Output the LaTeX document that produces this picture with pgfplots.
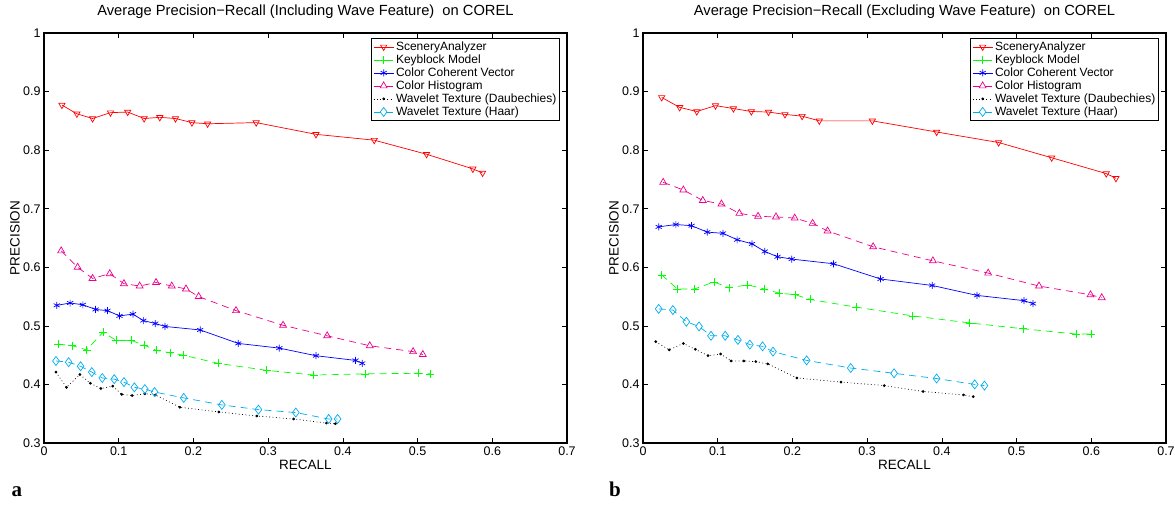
\documentclass[border=0pt]{standalone}
\usepackage{fontspec}
\setmainfont{Liberation Sans}
\newfontfamily\serifbf{Liberation Serif}
\usepackage{pgfplots}
\pgfplotsset{compat=1.18}

\pgfplotsset{
  prbase/.style={
    scale only axis, width=523pt, height=410pt, anchor=south west,
    xmin=0, xmax=0.7, ymin=0.3, ymax=1,
    xtick={0,0.1,0.2,0.3,0.4,0.5,0.6,0.7},
    ytick={0.3,0.4,0.5,0.6,0.7,0.8,0.9,1},
    tick align=inside, major tick length=5pt,
    axis line style={line width=1.1pt},
    every tick/.style={black, line width=0.7pt},
    /pgf/number format/assume math mode=true,
    ticklabel style={font=\fontsize{12.5}{14}\selectfont},
    title style={at={(axis description cs:0.5,1)}, anchor=base, yshift=11pt, font=\fontsize{14.7}{16}\selectfont},
    xlabel={RECALL}, ylabel={PRECISION},
    xlabel style={at={(axis description cs:0.5,-0.0537)}, anchor=center, font=\fontsize{13.5}{15}\selectfont},
    ylabel style={at={(axis description cs:-0.0555,0.5)}, anchor=center, font=\fontsize{13.5}{15}\selectfont},
    legend style={at={(0.987,0.988)}, anchor=north east, draw=black, line width=0.8pt, fill=white,
      font=\fontsize{12}{13}\selectfont, row sep=-1.2pt, inner sep=1.5pt},
    legend cell align=left,
    legend image code/.code={\draw[mark repeat=2,mark phase=2] plot coordinates {(0pt,0pt)(10pt,0pt)(20pt,0pt)};},
  },
  sa/.style={color=red, solid, line width=0.7pt, mark=triangle, mark size=3.6pt, mark options={rotate=180, solid}},
  kb/.style={color=green, line width=0.7pt, dash pattern=on 7pt off 5pt, mark=+, mark size=4pt, mark options={solid}},
  ccv/.style={color=blue, solid, line width=0.7pt, mark=asterisk, mark size=3.5pt, mark options={solid}},
  ch/.style={color=magenta, line width=0.7pt, dash pattern=on 7pt off 5pt, mark=triangle, mark size=4pt, mark options={solid}},
  wd/.style={color=black, line width=0.7pt, dash pattern=on 0.8pt off 2.6pt, mark=*, mark size=1pt, mark options={solid}},
  wh/.style={color=cyan, line width=0.7pt, dash pattern=on 7pt off 5pt, mark=diamond, mark size=4.5pt, mark options={solid}},
}

\begin{document}
\begin{tikzpicture}[x=1pt,y=1pt]
\useasboundingbox (0,0) rectangle (1175,510);
\begin{axis}[prbase, at={(44pt,67pt)},
  title={Average Precision−Recall (Including Wave Feature)\ \ on COREL}]
\addplot[sa] coordinates {(0.024,0.877)(0.044,0.862)(0.065,0.854)(0.089,0.864)(0.112,0.865)(0.134,0.854)(0.155,0.856)(0.176,0.854)(0.198,0.847)(0.219,0.845)(0.284,0.847)(0.364,0.827)(0.442,0.817)(0.512,0.793)(0.574,0.768)(0.587,0.761)};
\addlegendentry{SceneryAnalyzer}
\addplot[kb] coordinates {(0.019,0.469)(0.038,0.466)(0.057,0.459)(0.079,0.489)(0.097,0.475)(0.117,0.475)(0.134,0.467)(0.151,0.458)(0.169,0.454)(0.186,0.450)(0.233,0.436)(0.298,0.424)(0.361,0.416)(0.430,0.418)(0.501,0.419)(0.517,0.418)};
\addlegendentry{Keyblock Model}
\addplot[ccv] coordinates {(0.017,0.535)(0.035,0.539)(0.052,0.536)(0.069,0.528)(0.085,0.526)(0.101,0.517)(0.119,0.520)(0.133,0.509)(0.149,0.504)(0.162,0.499)(0.209,0.493)(0.260,0.470)(0.315,0.462)(0.364,0.449)(0.417,0.441)(0.426,0.436)};
\addlegendentry{Color Coherent Vector}
\addplot[ch] coordinates {(0.023,0.628)(0.045,0.600)(0.065,0.581)(0.088,0.589)(0.107,0.572)(0.128,0.568)(0.150,0.574)(0.171,0.568)(0.190,0.563)(0.207,0.550)(0.257,0.526)(0.320,0.501)(0.379,0.483)(0.436,0.466)(0.494,0.456)(0.507,0.451)};
\addlegendentry{Color Histogram}
\addplot[wd] coordinates {(0.016,0.421)(0.030,0.395)(0.048,0.417)(0.062,0.402)(0.076,0.393)(0.092,0.397)(0.104,0.383)(0.118,0.381)(0.135,0.384)(0.149,0.382)(0.182,0.361)(0.234,0.353)(0.285,0.346)(0.334,0.341)(0.378,0.334)(0.390,0.333)};
\addlegendentry{Wavelet Texture (Daubechies)}
\addplot[wh] coordinates {(0.016,0.440)(0.033,0.438)(0.049,0.431)(0.064,0.421)(0.078,0.411)(0.094,0.409)(0.107,0.404)(0.121,0.395)(0.135,0.392)(0.148,0.387)(0.187,0.377)(0.238,0.365)(0.287,0.357)(0.337,0.352)(0.381,0.341)(0.393,0.341)};
\addlegendentry{Wavelet Texture (Haar)}
\end{axis}
\begin{axis}[prbase, at={(643pt,67pt)},
  title={Average Precision−Recall (Excluding Wave Feature)\ \ on COREL}]
\addplot[sa] coordinates {(0.025,0.890)(0.049,0.873)(0.072,0.866)(0.097,0.876)(0.121,0.871)(0.145,0.866)(0.168,0.865)(0.190,0.861)(0.213,0.858)(0.236,0.850)(0.307,0.850)(0.393,0.831)(0.476,0.813)(0.547,0.787)(0.620,0.760)(0.633,0.752)};
\addlegendentry{SceneryAnalyzer}
\addplot[kb] coordinates {(0.025,0.587)(0.046,0.563)(0.069,0.563)(0.095,0.575)(0.115,0.565)(0.140,0.570)(0.162,0.563)(0.182,0.556)(0.204,0.553)(0.224,0.545)(0.285,0.532)(0.361,0.517)(0.437,0.505)(0.509,0.495)(0.580,0.486)(0.600,0.486)};
\addlegendentry{Keyblock Model}
\addplot[ccv] coordinates {(0.021,0.669)(0.044,0.673)(0.065,0.671)(0.086,0.660)(0.107,0.658)(0.126,0.647)(0.146,0.640)(0.163,0.627)(0.180,0.618)(0.199,0.614)(0.255,0.606)(0.318,0.580)(0.387,0.569)(0.447,0.552)(0.510,0.543)(0.522,0.538)};
\addlegendentry{Color Coherent Vector}
\addplot[ch] coordinates {(0.027,0.745)(0.054,0.732)(0.080,0.714)(0.105,0.708)(0.129,0.692)(0.154,0.687)(0.178,0.686)(0.203,0.684)(0.227,0.675)(0.247,0.662)(0.308,0.635)(0.388,0.611)(0.462,0.590)(0.530,0.568)(0.599,0.553)(0.614,0.548)};
\addlegendentry{Color Histogram}
\addplot[wd] coordinates {(0.017,0.473)(0.035,0.459)(0.054,0.470)(0.070,0.460)(0.087,0.449)(0.104,0.452)(0.118,0.440)(0.135,0.440)(0.151,0.439)(0.167,0.435)(0.206,0.411)(0.265,0.404)(0.323,0.398)(0.375,0.388)(0.429,0.382)(0.442,0.379)};
\addlegendentry{Wavelet Texture (Daubechies)}
\addplot[wh] coordinates {(0.021,0.529)(0.040,0.527)(0.058,0.507)(0.075,0.499)(0.091,0.483)(0.110,0.483)(0.127,0.476)(0.143,0.468)(0.160,0.465)(0.174,0.456)(0.219,0.441)(0.278,0.428)(0.336,0.419)(0.393,0.410)(0.444,0.400)(0.457,0.398)};
\addlegendentry{Wavelet Texture (Haar)}
\end{axis}
\node[font=\serifbf\bfseries\fontsize{21}{21}\selectfont, anchor=base] at (17,13) {a};
\node[font=\serifbf\bfseries\fontsize{21}{21}\selectfont, anchor=base] at (615,13) {b};
\end{tikzpicture}
\end{document}
